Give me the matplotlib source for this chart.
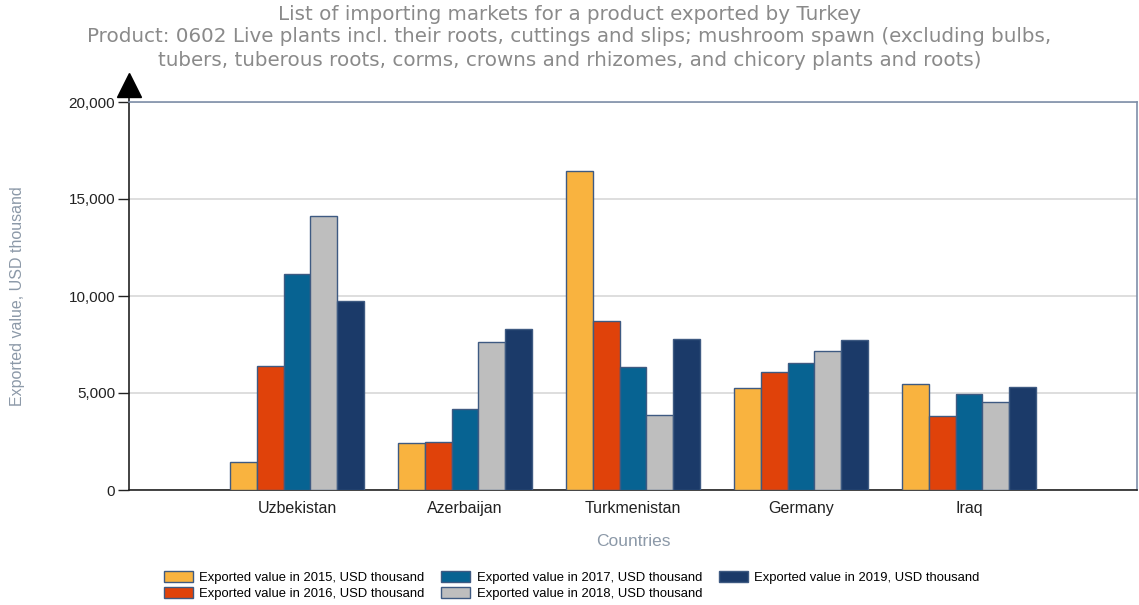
import numpy as np
import matplotlib.pyplot as plt
from matplotlib.patches import Patch

plt.rcParams["font.family"] = ["Liberation Sans", "DejaVu Sans"]

# 数据 (USD thousand)
countries = ["Uzbekistan", "Azerbaijan", "Turkmenistan", "Germany", "Iraq"]
years = ["2015", "2016", "2017", "2018", "2019"]
v2015 = [1420, 2420, 16460, 5250, 5480]
v2016 = [6390, 2480, 8730, 6090, 3800]
v2017 = [11130, 4160, 6320, 6540, 4930]
v2018 = [14110, 7640, 3850, 7140, 4550]
v2019 = [9760, 8300, 7800, 7710, 5320]
series = [v2015, v2016, v2017, v2018, v2019]
colors = ["#F9B33F", "#E0420A", "#076392", "#BEBEBE", "#1B3A69"]
edge = "#3E5A82"

title_lines = ["List of importing markets for a product exported by Turkey",
               "Product: 0602 Live plants incl. their roots, cuttings and slips; mushroom spawn (excluding bulbs,",
               "tubers, tuberous roots, corms, crowns and rhizomes, and chicory plants and roots)"]

fig = plt.figure(figsize=(11.39, 6.05), dpi=100)
ax = fig.add_axes([129 / 1139, 1 - 490 / 605, 1008 / 1139, 388 / 605])

x = np.arange(1, len(countries) + 1)
w = 0.16
for i, vals in enumerate(series):
    ax.bar(x + (i - 2) * w, vals, w, color=colors[i], edgecolor=edge,
           linewidth=1, zorder=3)

ax.set_xlim(0, 6)
ax.set_ylim(0, 20000)
ax.set_yticks([0, 5000, 10000, 15000, 20000])
ax.set_yticklabels(["0", "5,000", "10,000", "15,000", "20,000"])
ax.set_xticks(x)
ax.set_xticklabels(countries)
ax.tick_params(axis="x", length=0, labelsize=11.5, pad=8, colors="#222222")
ax.tick_params(axis="y", length=8, width=1, labelsize=11, colors="#222222", pad=2)
ax.grid(axis="y", color="#D8D8D8", linewidth=1.2, zorder=0)

for s in ["top", "right"]:
    ax.spines[s].set_color("#7F8FA9")
    ax.spines[s].set_linewidth(1.2)
ax.spines["left"].set_color("#222222")
ax.spines["bottom"].set_color("#222222")
ax.spines["left"].set_linewidth(1.2)
ax.spines["bottom"].set_linewidth(1.2)

# 箭头
ax.plot([0, 0], [1, 1.03], color="#222222", lw=1.2, transform=ax.transAxes,
        clip_on=False)
ax.plot(0, 1.045, marker="^", ms=17, color="black", transform=ax.transAxes,
        clip_on=False)

ax.set_ylabel("Exported value, USD thousand", color="#8C99A8", fontsize=11.5)
ax.yaxis.set_label_coords(-0.103, 0.5)
ax.set_xlabel("Countries", color="#8C99A8", fontsize=12.5, labelpad=13)

# 标题, 三行
for k, line in enumerate(title_lines):
    fig.text(0.5, 1 - (14 + 23 * k) / 605, line, ha="center", va="center",
             color="#8A8A8A", fontsize=14.3, family="DejaVu Sans")

handles = [Patch(facecolor=colors[i], edgecolor=edge,
                 label="Exported value in %s, USD thousand" % y)
           for i, y in enumerate(years)]
fig.legend(handles=handles, ncol=3, loc="center", bbox_to_anchor=(0.502, 0.032),
           frameon=False, fontsize=9.4, handlelength=2.2, handleheight=0.9,
           handletextpad=0.5, columnspacing=1.3, labelspacing=0.25)

fig.savefig("out.png", dpi=100)
